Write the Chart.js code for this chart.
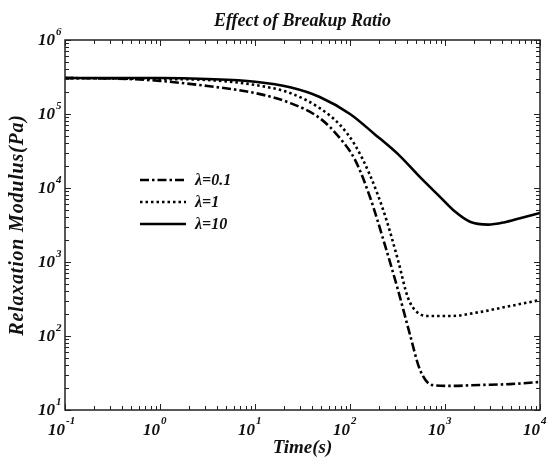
<!DOCTYPE html>
<html>
<head>
<meta charset="utf-8">
<script src="https://cdn.jsdelivr.net/npm/chart.js@4/dist/chart.umd.min.js"></script>
<style>
html,body{margin:0;padding:0;background:#fff;}
#wrap{width:552px;height:459px;}
</style>
</head>
<body>
<div id="wrap"><canvas id="c" width="552" height="459"></canvas></div>
<script>
// ---- data ----
const seriesLabels = ['λ=0.1', 'λ=1', 'λ=10'];

const time01 = [0.1, 0.48, 1, 3.16, 10, 23.4, 48, 78.5, 113, 162, 233, 320, 429, 546, 729, 1130, 2335, 4830, 10000];
const g01    = [3.06e5, 2.97e5, 2.8e5, 2.39e5, 1.92e5, 1.41e5, 8.8e4, 4.7e4, 2.4e4, 7.6e3, 1.7e3, 419, 103, 34.8, 21.8, 21.2, 21.8, 22.4, 23.9];

const time1 = [0.1, 1, 3.16, 10, 23.4, 48, 78.5, 113, 162, 233, 320, 408, 520, 695, 1130, 2335, 4830, 10000];
const g1    = [3.06e5, 2.97e5, 2.88e5, 2.47e5, 1.92e5, 1.2e5, 7.1e4, 3.8e4, 1.5e4, 4.3e3, 1.06e3, 327, 205, 186, 186, 211, 254, 306];

const time10 = [0.1, 1, 3.16, 10, 23.4, 48, 100, 183, 336, 546, 885, 1274, 1832, 2838, 4270, 6160, 10000];
const g10    = [3.06e5, 3.06e5, 2.97e5, 2.73e5, 2.3e5, 1.7e5, 1.0e5, 5.3e4, 2.7e4, 1.4e4, 7.6e3, 4.8e3, 3.5e3, 3.2e3, 3.45e3, 3.9e3, 4.6e3];

const xDecades = [-1, 0, 1, 2, 3, 4];
const yDecades = [1, 2, 3, 4, 5, 6];

const titleText = 'Effect of Breakup Ratio';
const xTitle = 'Time(s)';
const yTitle = 'Relaxation Modulus(Pa)';

// ---- build ----
const FONT = '"Liberation Serif", "Times New Roman", serif';
function pts(t, g) { return t.map((v, i) => ({x: v, y: g[i]})); }

const styles = [
  {borderDash: [9, 3, 2.5, 3]},
  {borderDash: [2.5, 3]},
  {borderDash: []}
];

const datasets = [pts(time01, g01), pts(time1, g1), pts(time10, g10)].map((d, i) => ({
  label: seriesLabels[i],
  data: d,
  borderColor: '#000',
  borderWidth: 2.6,
  borderDash: styles[i].borderDash,
  pointRadius: 0,
  fill: false,
  cubicInterpolationMode: 'monotone'
}));

const spacing = {
  id: 'spacing',
  afterLayout(chart) {
    const ys = chart.scales.y;
    if (ys && !ys._patched) {
      const proto = Object.getPrototypeOf(ys);
      ys.drawTitle = function () {
        const c = this.ctx;
        const prev = c.letterSpacing;
        c.letterSpacing = '0.8px';
        proto.drawTitle.call(this);
        c.letterSpacing = prev || '0px';
      };
      ys._patched = true;
    }
  }
};

const decor = {
  id: 'decor',
  afterDraw(chart) {
    const ctx = chart.ctx;
    const xs = chart.scales.x, ys = chart.scales.y;
    const a = chart.chartArea;
    ctx.save();
    // frame
    ctx.strokeStyle = '#222';
    ctx.lineWidth = 1.5;
    ctx.strokeRect(a.left, a.top, a.right - a.left, a.bottom - a.top);
    // minor / major ticks inward
    ctx.lineWidth = 1;
    ctx.beginPath();
    for (let k = -1; k < 4; k++) {
      for (let m = 1; m <= 10; m++) {
        const v = m * Math.pow(10, k);
        const px = Math.round(xs.getPixelForValue(v)) + 0.5;
        const len = (m === 1 || m === 10) ? 6 : 4;
        ctx.moveTo(px, a.bottom); ctx.lineTo(px, a.bottom - len);
        ctx.moveTo(px, a.top); ctx.lineTo(px, a.top + len);
      }
    }
    for (let k = 1; k < 6; k++) {
      for (let m = 1; m <= 10; m++) {
        const v = m * Math.pow(10, k);
        const py = Math.round(ys.getPixelForValue(v)) + 0.5;
        const len = (m === 1 || m === 10) ? 6 : 4;
        ctx.moveTo(a.left, py); ctx.lineTo(a.left + len, py);
        ctx.moveTo(a.right, py); ctx.lineTo(a.right - len, py);
      }
    }
    ctx.stroke();
    // tick labels with superscripts
    ctx.fillStyle = '#111';
    const big = 'italic bold 17px ' + FONT;
    const small = 'italic bold 11px ' + FONT;
    xDecades.forEach(k => {
      const px = xs.getPixelForValue(Math.pow(10, k));
      ctx.font = big; ctx.textAlign = 'right'; ctx.textBaseline = 'alphabetic';
      ctx.fillText('10', px, 435);
      ctx.font = small; ctx.textAlign = 'left';
      ctx.fillText(String(k), px + 1, 424);
    });
    yDecades.forEach(k => {
      const py = ys.getPixelForValue(Math.pow(10, k));
      ctx.font = big; ctx.textAlign = 'right'; ctx.textBaseline = 'alphabetic';
      ctx.fillText('10', 55, py + 5);
      ctx.font = small; ctx.textAlign = 'left';
      ctx.fillText(String(k), 56, py - 5);
    });
    // legend
    const rows = [180, 202, 224];
    chart.data.datasets.forEach((ds, i) => {
      const y = rows[i];
      ctx.strokeStyle = '#000';
      ctx.lineWidth = 2.6;
      ctx.setLineDash(ds.borderDash);
      ctx.beginPath(); ctx.moveTo(140, y); ctx.lineTo(186, y); ctx.stroke();
      ctx.setLineDash([]);
      ctx.font = 'italic bold 16px ' + FONT;
      ctx.textAlign = 'left'; ctx.textBaseline = 'middle';
      ctx.fillStyle = '#111';
      ctx.fillText(ds.label, 195, y + 1);
    });
    ctx.restore();
  }
};

new Chart(document.getElementById('c'), {
  type: 'line',
  data: {datasets},
  options: {
    responsive: false,
    animation: false,
    layout: {padding: {left: 0, right: 12, top: 0, bottom: 0}},
    plugins: {
      legend: {display: false},
      tooltip: {enabled: false},
      title: {
        display: true,
        text: titleText,
        fullSize: false,
        color: '#111',
        font: {family: FONT, size: 18, style: 'italic', weight: 'bold', lineHeight: 1.2},
        padding: {top: 11, bottom: 7.4}
      }
    },
    scales: {
      x: {
        type: 'logarithmic', min: 0.1, max: 10000,
        grid: {display: false, drawTicks: false},
        border: {display: false},
        ticks: {display: false},
        title: {display: true, text: xTitle, color: '#111',
          font: {family: FONT, size: 19, style: 'italic', weight: 'bold', lineHeight: 1.2},
          padding: {top: 0, bottom: 0}},
        afterFit(s) { s.height = 49; }
      },
      y: {
        type: 'logarithmic', min: 10, max: 1000000,
        grid: {display: false, drawTicks: false},
        border: {display: false},
        ticks: {display: false},
        title: {display: true, text: yTitle, color: '#111',
          font: {family: FONT, size: 20, style: 'italic', weight: 'bold', lineHeight: 1.2},
          padding: {top: 6, bottom: 6}},
        afterFit(s) { s.width = 65; }
      }
    }
  },
  plugins: [spacing, decor]
});
</script>
</body>
</html>
